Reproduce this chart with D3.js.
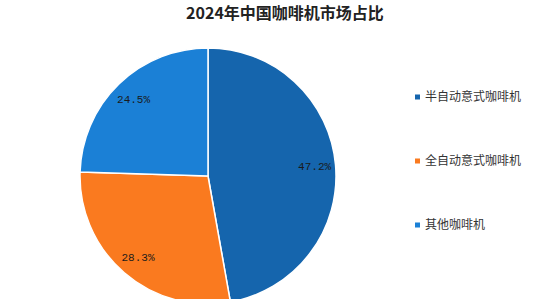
<!DOCTYPE html>
<html>
<head>
<meta charset="utf-8">
<script src="https://cdn.jsdelivr.net/npm/d3@7"></script>
<style>
  body { margin: 0; background: #fff; }
  svg { display: block; }
</style>
</head>
<body>
<script>
// data
var categories = ["半自动意式咖啡机", "全自动意式咖啡机", "其他咖啡机"];
var shares = [47.2, 28.3, 24.5];
var colors = ["#1565ad", "#fa7a1f", "#1b80d6"];

var width = 555, height = 299,
    cx = 208, cy = 176,
    radius = 128;

var svg = d3.select("body").append("svg")
    .attr("width", width)
    .attr("height", height);

// title
svg.append("text")
    .attr("x", 285)
    .attr("y", 19)
    .attr("text-anchor", "middle")
    .style("font-family", "'Noto Sans CJK SC', sans-serif")
    .style("font-size", "16px")
    .style("font-weight", "bold")
    .style("fill", "#222")
    .text("2024年中国咖啡机市场占比");

var data = categories.map(function(c, i) { return {name: c, value: shares[i]}; });

var color = d3.scaleOrdinal().domain(categories).range(colors);

var pie = d3.pie()
    .sort(null)
    .value(function(d) { return d.value; });

var arc = d3.arc()
    .outerRadius(radius)
    .innerRadius(0);

// labels sit a bit inside the rim
var labelArc = d3.arc()
    .outerRadius(107)
    .innerRadius(107);

var g = svg.append("g")
    .attr("transform", "translate(" + cx + "," + cy + ")");

var slices = g.selectAll(".arc")
    .data(pie(data))
  .enter().append("g")
    .attr("class", "arc");

slices.append("path")
    .attr("d", arc)
    .style("fill", function(d) { return color(d.data.name); })
    .style("stroke", "#fff")
    .style("stroke-width", 1.5);

slices.append("text")
    .attr("transform", function(d) { return "translate(" + labelArc.centroid(d) + ")"; })
    .attr("dy", ".35em")
    .attr("text-anchor", "middle")
    .style("font-family", "'Liberation Mono', 'DejaVu Sans Mono', monospace")
    .style("font-size", "11px")
    .style("fill", "#1a1a1a")
    .text(function(d) { return d.data.value.toFixed(1) + "%"; });

// legend
var legendY = d3.scalePoint()
    .domain(categories)
    .range([97, 225]);

var legend = svg.selectAll(".legend")
    .data(categories)
  .enter().append("g")
    .attr("class", "legend")
    .attr("transform", function(d) { return "translate(415," + legendY(d) + ")"; });

legend.append("rect")
    .attr("x", 0)
    .attr("y", -2.5)
    .attr("width", 5)
    .attr("height", 5)
    .style("fill", function(d) { return color(d); });

legend.append("text")
    .attr("x", 10)
    .attr("dy", ".35em")
    .style("font-family", "'Noto Sans CJK SC', sans-serif")
    .style("font-size", "12px")
    .style("fill", "#333")
    .text(function(d) { return d; });
</script>
</body>
</html>
